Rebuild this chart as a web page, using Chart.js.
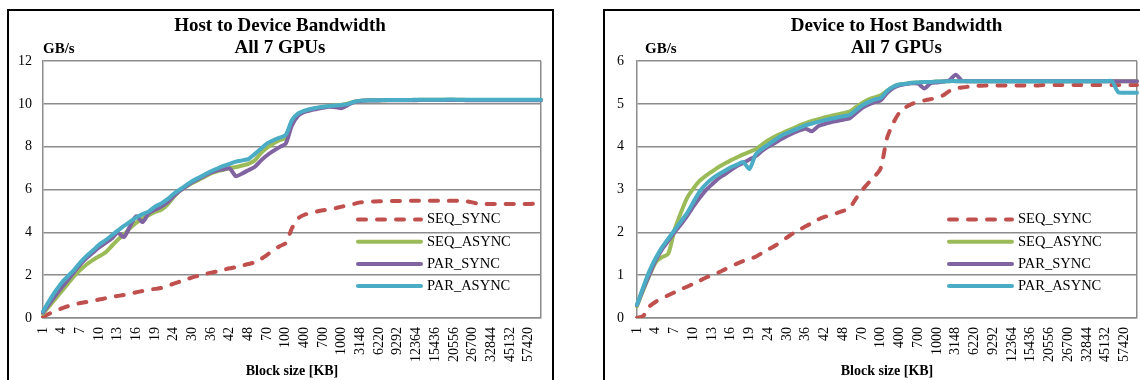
<!DOCTYPE html>
<html>
<head>
<meta charset="utf-8">
<title>Bandwidth - All 7 GPUs</title>
<script src="https://cdn.jsdelivr.net/npm/chart.js@4.4.1/dist/chart.umd.min.js"></script>
<style>
  html, body { margin: 0; padding: 0; background: #fff; }
  body { position: relative; width: 1140px; height: 380px; overflow: hidden; }
  .frame { position: absolute; top: 9px; height: 420px; border: 2px solid #000; box-sizing: border-box; }
  .box { position: absolute; top: 11px; height: 369px; }
</style>
</head>
<body>
<div class="frame" style="left:7px;width:547px"></div>
<div class="frame" style="left:603px;width:590px"></div>
<div class="box" style="left:9px;width:543px"><canvas id="h2d"></canvas></div>
<div class="box" style="left:605px;width:535px"><canvas id="d2h"></canvas></div>
<script>
// block sizes in KB (x categories)
const blockSizes = [1, 2, 3, 4, 5, 6, 7, 8, 9, 10, 11, 12, 13, 14, 15, 16, 17, 18, 19, 20,
  22, 24, 26, 28, 30, 32, 34, 36, 38, 40, 42, 44, 46, 48,
  50, 60, 70, 80, 90, 100, 200, 300, 400, 500, 600, 700, 800, 900, 1000,
  1100, 2124, 3148, 4172, 5196, 6220, 7244, 8268, 9292, 10316, 11340, 12364, 13388, 14412, 15436,
  17484, 19532, 20556, 22604, 24652, 26700, 28748, 30796, 32844,
  36940, 41036, 45132, 49228, 53324, 57420, 61516, 65612];

const seriesNames = ['SEQ_SYNC', 'SEQ_ASYNC', 'PAR_SYNC', 'PAR_ASYNC'];
const seriesColors = ['#C0504D', '#9BBB59', '#8064A2', '#4BACC6'];

// Host to Device, GB/s
const h2dSeqSync = [0.05, 0.2, 0.32, 0.45, 0.55, 0.63, 0.7, 0.75, 0.8, 0.86,
  0.92, 0.98, 1.03, 1.08, 1.14, 1.2, 1.26, 1.32, 1.36, 1.4,
  1.5, 1.6, 1.7, 1.8, 1.9, 1.97, 2.05, 2.12, 2.18, 2.25,
  2.32, 2.38, 2.45, 2.52, 2.6, 2.75, 2.95, 3.15, 3.35, 3.5,
  4.2, 4.65, 4.82, 4.9, 4.97, 5.03, 5.08, 5.13, 5.2, 5.26,
  5.33, 5.4, 5.43, 5.44, 5.45, 5.45, 5.46, 5.46, 5.46, 5.47,
  5.47, 5.47, 5.47, 5.47, 5.47, 5.47, 5.48, 5.47, 5.45, 5.4,
  5.33, 5.32, 5.32, 5.32, 5.32, 5.32, 5.32, 5.32, 5.32, 5.35,
  5.52];
const h2dSeqAsync = [0.2, 0.55, 0.9, 1.25, 1.6, 1.95, 2.25, 2.5, 2.7, 2.88,
  3.05, 3.35, 3.65, 3.9, 4.2, 4.45, 4.65, 4.8, 4.95, 5.05,
  5.3, 5.65, 5.95, 6.15, 6.3, 6.45, 6.6, 6.75, 6.85, 6.92,
  7.0, 7.05, 7.12, 7.2, 7.35, 7.7, 7.95, 8.15, 8.3, 8.4,
  9.15, 9.5, 9.65, 9.75, 9.8, 9.85, 9.9, 9.93, 9.96, 10.02,
  10.1, 10.15, 10.16, 10.17, 10.17, 10.17, 10.18, 10.18, 10.18, 10.18,
  10.18, 10.19, 10.19, 10.19, 10.19, 10.19, 10.19, 10.19, 10.18, 10.18,
  10.18, 10.18, 10.18, 10.18, 10.18, 10.18, 10.18, 10.18, 10.18, 10.18,
  10.18];
const h2dParSync = [0.25, 0.65, 1.05, 1.42, 1.78, 2.15, 2.5, 2.8, 3.05, 3.3,
  3.5, 3.7, 3.98, 3.78, 4.3, 4.75, 4.48, 4.9, 5.05, 5.2,
  5.4, 5.7, 5.95, 6.15, 6.35, 6.5, 6.65, 6.8, 6.9, 6.95,
  6.98, 6.62, 6.75, 6.9, 7.05, 7.35, 7.6, 7.8, 7.98, 8.15,
  9.0, 9.45, 9.62, 9.7, 9.76, 9.82, 9.86, 9.84, 9.8, 9.95,
  10.08, 10.13, 10.15, 10.16, 10.16, 10.17, 10.17, 10.17, 10.17, 10.17,
  10.17, 10.18, 10.18, 10.18, 10.18, 10.18, 10.18, 10.18, 10.17, 10.17,
  10.17, 10.17, 10.17, 10.17, 10.17, 10.17, 10.17, 10.17, 10.17, 10.17,
  10.17];
const h2dParAsync = [0.3, 0.8, 1.25, 1.65, 1.95, 2.25, 2.6, 2.9, 3.15, 3.42,
  3.62, 3.85, 4.08, 4.3, 4.5, 4.7, 4.85, 4.98, 5.2, 5.35,
  5.55, 5.8, 6.0, 6.2, 6.4, 6.55, 6.7, 6.85, 6.98, 7.1,
  7.2, 7.3, 7.36, 7.42, 7.65, 7.9, 8.15, 8.3, 8.42, 8.55,
  9.25, 9.55, 9.68, 9.76, 9.82, 9.86, 9.9, 9.92, 9.95, 10.0,
  10.1, 10.15, 10.16, 10.17, 10.17, 10.18, 10.18, 10.18, 10.18, 10.18,
  10.19, 10.19, 10.19, 10.19, 10.19, 10.2, 10.2, 10.19, 10.19, 10.19,
  10.19, 10.19, 10.19, 10.19, 10.19, 10.19, 10.19, 10.19, 10.19, 10.19,
  10.19];

// Device to Host, GB/s
const d2hSeqSync = [0.0, 0.05, 0.27, 0.38, 0.46, 0.53, 0.6, 0.67, 0.73, 0.8,
  0.87, 0.94, 1.0, 1.06, 1.13, 1.2, 1.27, 1.33, 1.38, 1.43,
  1.52, 1.6, 1.68, 1.78, 1.88, 1.98, 2.06, 2.14, 2.22, 2.3,
  2.36, 2.4, 2.45, 2.5, 2.56, 2.78, 2.98, 3.15, 3.3, 3.5,
  4.2, 4.55, 4.8, 4.92, 5.0, 5.05, 5.08, 5.11, 5.14, 5.2,
  5.3, 5.36, 5.38, 5.4, 5.42, 5.42, 5.43, 5.43, 5.43, 5.43,
  5.43, 5.43, 5.43, 5.43, 5.43, 5.44, 5.44, 5.44, 5.44, 5.44,
  5.44, 5.44, 5.44, 5.44, 5.44, 5.44, 5.44, 5.44, 5.44, 5.44,
  5.44];
const d2hSeqAsync = [0.28, 0.65, 1.0, 1.3, 1.42, 1.5, 2.05, 2.45, 2.8, 3.02,
  3.2, 3.32, 3.42, 3.52, 3.6, 3.68, 3.75, 3.82, 3.88, 3.94,
  4.05, 4.15, 4.23, 4.3, 4.37, 4.43, 4.5, 4.55, 4.6, 4.64,
  4.68, 4.72, 4.75, 4.78, 4.82, 4.92, 5.02, 5.1, 5.15, 5.2,
  5.3, 5.4, 5.45, 5.47, 5.49, 5.5, 5.51, 5.51, 5.52, 5.52,
  5.53, 5.53, 5.53, 5.53, 5.53, 5.53, 5.53, 5.53, 5.53, 5.53,
  5.53, 5.53, 5.53, 5.53, 5.53, 5.53, 5.53, 5.53, 5.53, 5.53,
  5.53, 5.53, 5.53, 5.53, 5.53, 5.53, 5.53, 5.53, 5.53, 5.53,
  5.53];
const d2hParSync = [0.3, 0.68, 1.02, 1.35, 1.6, 1.8, 2.0, 2.18, 2.38, 2.6,
  2.8, 2.98, 3.12, 3.25, 3.35, 3.45, 3.55, 3.62, 3.7, 3.78,
  3.9, 4.0, 4.08, 4.17, 4.25, 4.32, 4.38, 4.42, 4.36, 4.48,
  4.53, 4.57, 4.6, 4.63, 4.66, 4.78, 4.9, 4.98, 5.04, 5.08,
  5.25, 5.37, 5.43, 5.46, 5.48, 5.47, 5.36, 5.48, 5.5, 5.52,
  5.55, 5.68, 5.54, 5.53, 5.53, 5.53, 5.53, 5.53, 5.53, 5.53,
  5.53, 5.53, 5.53, 5.53, 5.53, 5.53, 5.53, 5.53, 5.53, 5.53,
  5.53, 5.53, 5.53, 5.53, 5.53, 5.53, 5.53, 5.53, 5.53, 5.53,
  5.53];
const d2hParAsync = [0.31, 0.72, 1.1, 1.4, 1.65, 1.85, 2.05, 2.25, 2.45, 2.7,
  2.95, 3.12, 3.25, 3.35, 3.43, 3.52, 3.58, 3.64, 3.48, 3.82,
  3.95, 4.05, 4.15, 4.25, 4.32, 4.38, 4.44, 4.5, 4.54, 4.58,
  4.62, 4.65, 4.68, 4.71, 4.74, 4.85, 4.96, 5.04, 5.1, 5.14,
  5.3, 5.4, 5.45, 5.47, 5.49, 5.5, 5.51, 5.51, 5.52, 5.52,
  5.53, 5.53, 5.53, 5.53, 5.53, 5.53, 5.53, 5.53, 5.53, 5.53,
  5.53, 5.53, 5.53, 5.53, 5.53, 5.53, 5.53, 5.53, 5.53, 5.53,
  5.53, 5.53, 5.53, 5.53, 5.53, 5.53, 5.53, 5.27, 5.26, 5.26,
  5.26];

const h2dTitle = ['Host to Device Bandwidth', 'All 7 GPUs'];
const d2hTitle = ['Device to Host Bandwidth', 'All 7 GPUs'];
const yUnit = 'GB/s';
const xTitle = 'Block size [KB]';

const SERIF = "'Liberation Serif', 'Times New Roman', serif";
const GRID = '#8c8c8c';

// titles, unit label and the in-plot legend
const panelText = {
    id: 'panelText',
    afterDraw(chart, args, opts) {
        const ctx = chart.ctx;
        const area = chart.chartArea;
        ctx.save();
        ctx.fillStyle = '#000';
        ctx.textAlign = 'center';
        ctx.textBaseline = 'alphabetic';
        ctx.font = 'bold 19px ' + SERIF;
        opts.title.forEach(function (line, i) {
            ctx.fillText(line, opts.titleX, 19.7 + i * 22.6);
        });
        ctx.textAlign = 'left';
        ctx.font = 'bold 15px ' + SERIF;
        ctx.fillText(yUnit, area.left + opts.unitDx, 42);

        ctx.font = '14.5px ' + SERIF;
        ctx.textBaseline = 'middle';
        chart.data.datasets.forEach(function (ds, i) {
            const x = area.left + opts.legendDx;
            const y = area.top + 158.5 + i * 22.2;
            ctx.strokeStyle = ds.borderColor;
            ctx.lineWidth = ds.borderWidth;
            ctx.lineCap = 'round';
            ctx.setLineDash(ds.borderDash || []);
            ctx.beginPath();
            ctx.moveTo(x, y);
            ctx.lineTo(x + 63, y);
            ctx.stroke();
            ctx.setLineDash([]);
            ctx.fillText(ds.label, x + 69, y);
        });
        ctx.restore();
    }
};

function makeChart(id, series, yMax, yStep, text, pad, tickPad) {
    const datasets = series.map(function (values, i) {
        return {
            label: seriesNames[i],
            data: values,
            borderColor: seriesColors[i],
            backgroundColor: seriesColors[i],
            borderWidth: 4,
            borderDash: i === 0 ? [8, 11] : [],
            borderCapStyle: 'round',
            borderJoinStyle: 'round',
            pointRadius: 0,
            tension: 0.25,
            fill: false,
            order: series.length - 1 - i
        };
    });

    return new Chart(document.getElementById(id), {
        type: 'line',
        data: { labels: blockSizes, datasets: datasets },
        plugins: [panelText],
        options: {
            responsive: true,
            maintainAspectRatio: false,
            animation: false,
            layout: { padding: { left: pad.left, right: pad.right, top: 50, bottom: 0 } },
            plugins: {
                legend: { display: false },
                title: { display: false },
                tooltip: { enabled: false },
                panelText: text
            },
            scales: {
                x: {
                    offset: false,
                    grid: {
                        drawTicks: false,
                        lineWidth: 1.5,
                        // only the right edge of the plot frame
                        color: function (c) {
                            return c.index === blockSizes.length - 1 ? GRID : 'rgba(0,0,0,0)';
                        }
                    },
                    border: { display: true, color: GRID, width: 1.5 },
                    ticks: {
                        autoSkip: false,
                        maxRotation: 90,
                        minRotation: 90,
                        padding: 9,
                        color: '#000',
                        font: { family: SERIF, size: 14 },
                        callback: function (val, idx) {
                            return idx % 3 === 0 ? String(blockSizes[idx]) : '';
                        }
                    },
                    title: {
                        display: true,
                        text: xTitle,
                        color: '#000',
                        padding: { top: 0, bottom: 0 },
                        font: { family: SERIF, size: 14, weight: 'bold', lineHeight: 1.2 }
                    },
                    afterFit: function (scale) {
                        scale.height = 62;
                        scale.paddingLeft = 0;
                        scale.paddingRight = 0;
                    }
                },
                y: {
                    min: 0,
                    max: yMax,
                    ticks: {
                        stepSize: yStep,
                        padding: tickPad,
                        color: '#000',
                        font: { family: SERIF, size: 14 }
                    },
                    grid: { color: GRID, lineWidth: 1.5, drawTicks: false },
                    border: { display: true, color: GRID, width: 1.5 },
                    afterFit: function (scale) {
                        scale.width = 24;
                        scale.paddingTop = 0;
                        scale.paddingBottom = 0;
                    }
                }
            }
        }
    });
}

document.addEventListener('DOMContentLoaded', function () {
    makeChart('h2d', [h2dSeqSync, h2dSeqAsync, h2dParSync, h2dParAsync], 12, 2,
        { title: h2dTitle, titleX: 271, unitDx: 0, legendDx: 315 },
        { left: 10, right: 11 }, 11);
    makeChart('d2h', [d2hSeqSync, d2hSeqAsync, d2hParSync, d2hParAsync], 6, 1,
        { title: d2hTitle, titleX: 291.5, unitDx: 8, legendDx: 312 },
        { left: 8, right: 3 }, 13);
});
</script>
</body>
</html>
